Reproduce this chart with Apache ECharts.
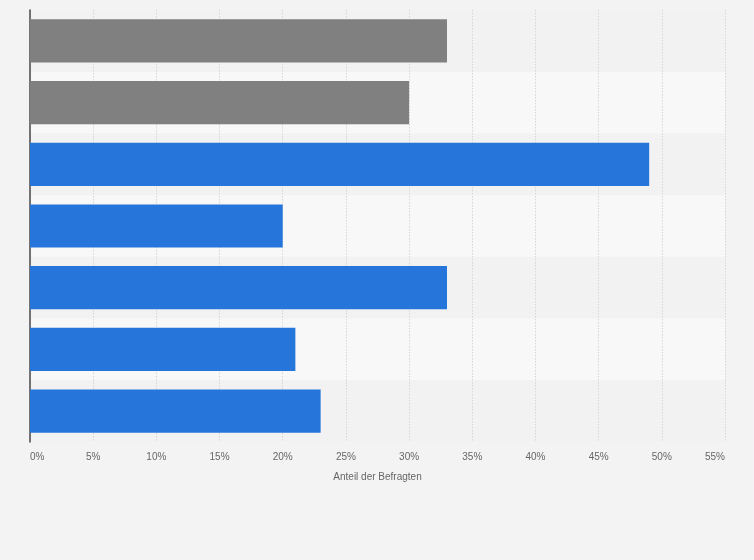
<!DOCTYPE html>
<html>
<head>
<meta charset="utf-8">
<script src="https://cdn.jsdelivr.net/npm/echarts@6/dist/echarts.min.js"></script>
<style>
html,body{margin:0;padding:0;background:#f3f3f3;}
#c{width:754px;height:560px;}
</style>
</head>
<body>
<div id="c"></div>
<script>
var categories = ['Kategorie 1','Kategorie 2','Kategorie 3','Kategorie 4','Kategorie 5','Kategorie 6','Kategorie 7'];
var values = [33, 30, 49, 20, 33, 21, 23];
var barColors = ['#808080','#808080','#2675db','#2675db','#2675db','#2675db','#2675db'];
var xTicks = [0,5,10,15,20,25,30,35,40,45,50,55];

var chart = echarts.init(document.getElementById('c'), null, {renderer:'canvas'});
chart.setOption({
  backgroundColor:'#f3f3f3',
  animation:false,
  grid:{left:30,right:29,top:10,bottom:118,containLabel:false},
  xAxis:{
    type:'value',min:xTicks[0],max:xTicks[xTicks.length-1],interval:5,
    name:'Anteil der Befragten',nameLocation:'middle',nameGap:30,
    nameTextStyle:{color:'#666',fontSize:10,fontFamily:'Arial, Liberation Sans, sans-serif'},
    axisLine:{show:false},axisTick:{show:false},
    axisLabel:{formatter:'{value}%',color:'#666',fontSize:10,margin:10,
      fontFamily:'Arial, Liberation Sans, sans-serif',alignMinLabel:'left',alignMaxLabel:'right'},
    splitLine:{show:true,lineStyle:{color:'#d6d6d6',type:[1.5,1.5],width:1}}
  },
  yAxis:{
    type:'category',data:categories,inverse:true,
    axisLine:{show:true,lineStyle:{color:'#4a4a4a',width:1.5}},
    axisTick:{show:false},axisLabel:{show:false},
    splitArea:{show:true,areaStyle:{color:['#f2f2f2','#f8f8f8']}}
  },
  series:[{
    type:'bar',barCategoryGap:'30%',
    data:values.map(function(v,i){return {value:v,itemStyle:{color:barColors[i]}};})
  }]
});
</script>
</body>
</html>
